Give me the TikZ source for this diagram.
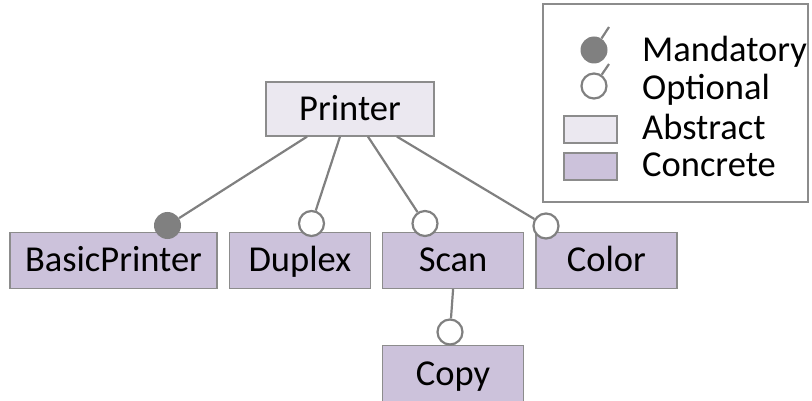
\documentclass[tikz,border=0pt]{standalone}
\usepackage{fontspec}
\setmainfont{Carlito}
\usepackage{tikz}
\usetikzlibrary{positioning}
\definecolor{absfill}{RGB}{235,232,240}
\definecolor{confill}{RGB}{204,194,219}
\definecolor{linegray}{RGB}{128,128,128}
\definecolor{boxgray}{RGB}{140,140,140}

\begin{document}
\begin{tikzpicture}[x=1pt,y=-1pt,
    feat/.style={draw=boxgray,line width=1.3pt,inner sep=0pt,
      minimum height=56pt,text height=23pt,text depth=0pt,
      font=\fontsize{36.5}{44}\selectfont},
    abstr/.style={feat,fill=absfill},
    concr/.style={feat,fill=confill,minimum width=141pt},
    mand/.style={circle,fill=linegray,inner sep=0pt,minimum size=27pt},
    opt/.style={circle,draw=linegray,line width=2.2pt,fill=white,inner sep=0pt,
      minimum size=25pt},
    edge/.style={draw=linegray,line width=2.2pt},
    legtext/.style={anchor=base west,inner sep=0pt,
      font=\fontsize{36.5}{44}\selectfont}]
    \useasboundingbox (0,0) rectangle (812,401);

    % legend
    \draw[boxgray,line width=1.3pt] (543,4) rectangle (808,202);
    \node[mand] (legmand) at (594,50) {};
    \node[opt] (legopt) at (594,86) {};
    \coordinate (legmandtip) at (609,27);
    \coordinate (legopttip) at (609,64);
    \draw[edge] (legmand) -- (legmandtip);
    \draw[edge] (legopt) -- (legopttip);
    \node[abstr,minimum width=53pt,minimum height=27pt] (legabs) at (590.5,129.5) {};
    \node[concr,minimum width=53pt,minimum height=27pt] (legcon) at (590.5,166.5) {};
    \node[legtext] (tmand) at (642,62) {Mandatory};
    \node[legtext] (topt) at (642,100) {Optional};
    \node[legtext] (tabs) at (642,140) {Abstract};
    \node[legtext] (tcon) at (642,177) {Concrete};

    % feature tree
    \node[abstr,minimum width=168pt,minimum height=54pt] (printer) at (350,109) {Printer};
    \node[concr,minimum width=207pt] (basic) at (113.5,260.5) {BasicPrinter};
    \node[concr,right=11pt of basic] (duplex) {Duplex};
    \node[concr,right=11pt of duplex] (scan) {Scan};
    \node[concr,right=11pt of scan] (color) {Color};
    \node[concr,below=56pt of scan] (copy) {Copy};

    % end markers sit on the child boxes
    \node[mand] (basicdot) at (167.5,225.5) {};
    \node[opt] (duplexdot) at (311.5,223.5) {};
    \node[opt] (scandot) at (425,223.5) {};
    \node[opt] (colordot) at (546,226) {};
    \node[opt] (copydot) at (450,332) {};

    \draw[edge] ([xshift=-43pt]printer.south) -- (basicdot);
    \draw[edge] ([xshift=-10pt]printer.south) -- (duplexdot);
    \draw[edge] ([xshift=18pt]printer.south) -- (scandot);
    \draw[edge] ([xshift=47pt]printer.south) -- (colordot);
    \draw[edge] (scan.south) -- (copydot);
\end{tikzpicture}
\end{document}
